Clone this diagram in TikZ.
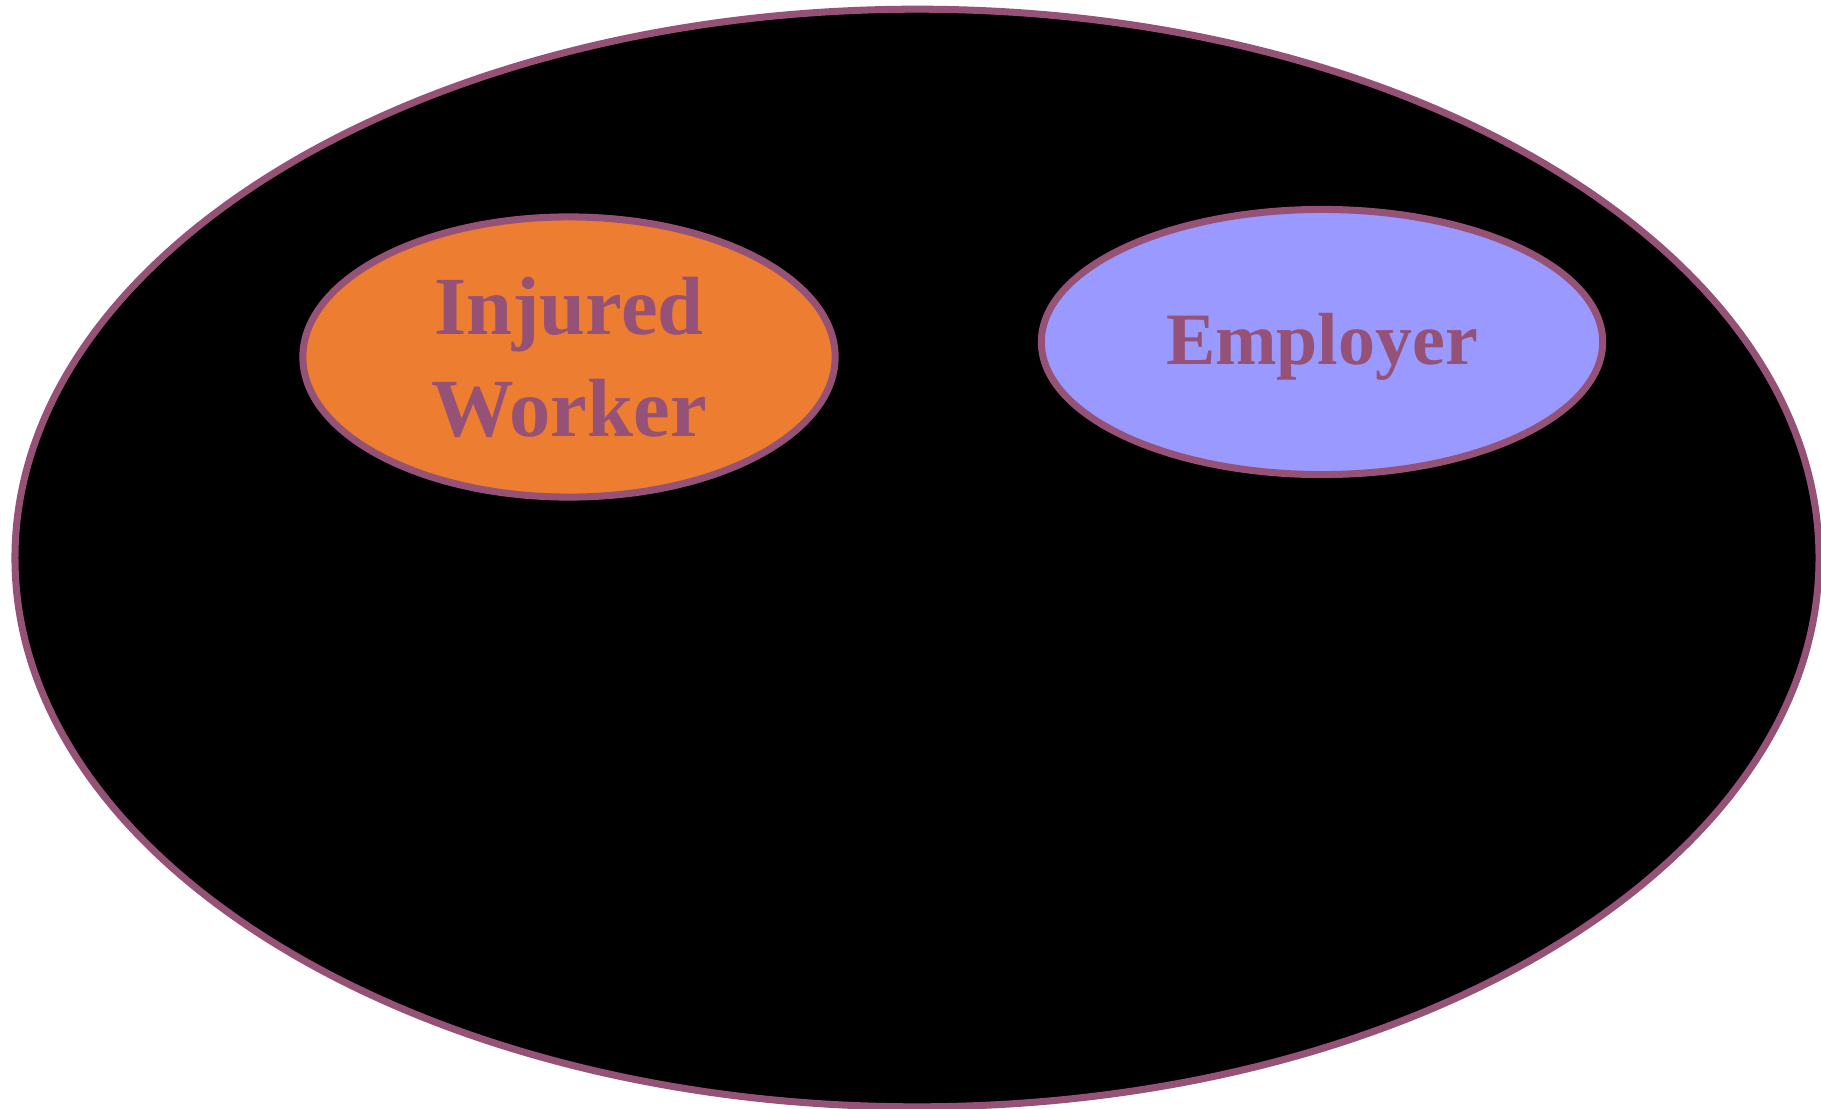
\documentclass[tikz,border=0pt]{standalone}
\usepackage{fontspec}
\setmainfont{Liberation Serif}
\usetikzlibrary{shapes.geometric}
\definecolor{rim}{RGB}{150,82,118}
\definecolor{workerfill}{RGB}{237,125,49}
\definecolor{employerfill}{RGB}{153,153,255}
\begin{document}
\begin{tikzpicture}[x=0.01cm, y=-0.01cm]
        % Define styles
        \tikzset{
            party/.style={ellipse, draw=rim, line width=2pt, inner sep=0pt, align=center,
                text=rim, font=\bfseries}
        }
        \useasboundingbox (0,0) rectangle (1821,1109);
        % The surrounding field
        \node[party, fill=black, minimum width=18.03cm, minimum height=10.97cm] (field) at (917,558) {};
        % The two parties
        \node[party, fill=workerfill, minimum width=5.32cm, minimum height=2.80cm,
            font=\fontsize{23.5}{29}\selectfont\bfseries] (worker) at (569,357) {Injured\\Worker};
        \node[party, fill=employerfill, minimum width=5.61cm, minimum height=2.65cm, text depth=2pt,
            font=\fontsize{21}{26}\selectfont\bfseries] (employer) at (1322,342) {Employer};
    \end{tikzpicture}
\end{document}
